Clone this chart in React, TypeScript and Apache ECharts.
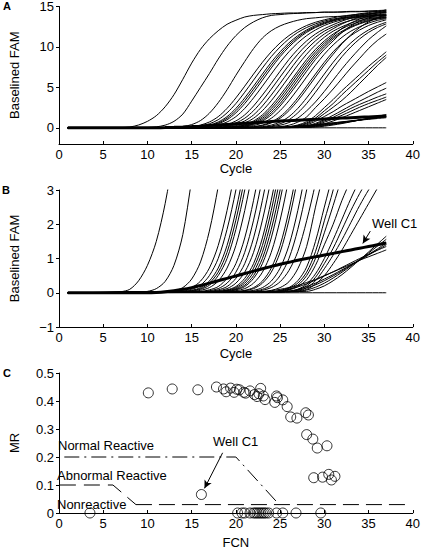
import React, { useEffect, useRef } from 'react';
import * as echarts from 'echarts';

type Curve = { start: number; v: number[] };

const FONT = '"Liberation Sans", Arial, Helvetica, sans-serif';

// Panel A/B amplification curves: values at cycles start, start+1, ... 37 (baseline 0 before start)
const EARLY_CURVES: Curve[] = [
  { start: 6, v: [0.01, 0.03, 0.1, 0.35, 0.8, 1.5, 2.6, 4.1, 6.0, 8.0, 9.7, 11.0, 12.0, 12.8, 13.3, 13.7, 13.9, 14.0, 14.1, 14.15, 14.2, 14.2, 14.25, 14.25, 14.3, 14.3, 14.3, 14.35, 14.35, 14.4, 14.4, 14.4] },
  { start: 9, v: [0.02, 0.04, 0.12, 0.33, 0.8, 1.7, 3.3, 5.0, 6.7, 8.5, 10.1, 11.4, 12.4, 13.1, 13.6, 13.9, 14.0, 14.1, 14.15, 14.2, 14.25, 14.3, 14.3, 14.35, 14.4, 14.4, 14.45, 14.5, 14.55] },
  { start: 12, v: [0.02, 0.05, 0.15, 0.4, 0.9, 1.8, 3.1, 4.7, 6.5, 8.2, 9.8, 11.1, 12.0, 12.6, 13.0, 13.3, 13.5, 13.6, 13.7, 13.75, 13.8, 13.85, 13.9, 13.95, 14.0, 14.0] },
];

const CLUSTER_CURVES: Curve[] = [
  { start: 13, v: [0.03, 0.07, 0.15, 0.34, 0.72, 1.38, 2.4, 3.7, 5.15, 6.65, 8.1, 9.4, 10.5, 11.4, 12.1, 12.65, 13.05, 13.35, 13.6, 13.8, 13.95, 14.05, 14.15, 14.2, 14.25] },
  { start: 14, v: [0.05, 0.1, 0.22, 0.5, 1.0, 1.85, 3.0, 4.4, 5.9, 7.4, 8.8, 10.0, 11.0, 11.8, 12.4, 12.85, 13.2, 13.45, 13.6, 13.7, 13.8, 13.85, 13.9, 13.95] },
  { start: 14, v: [0.03, 0.07, 0.15, 0.34, 0.72, 1.38, 2.4, 3.7, 5.15, 6.65, 8.1, 9.4, 10.5, 11.4, 12.1, 12.65, 13.05, 13.35, 13.65, 13.9, 14.1, 14.25, 14.4, 14.5] },
  { start: 14, v: [0.025, 0.06, 0.12, 0.28, 0.6, 1.18, 2.12, 3.35, 4.78, 6.28, 7.75, 9.1, 10.25, 11.2, 11.95, 12.5, 12.95, 13.28, 13.5, 13.62, 13.72, 13.82, 13.87, 13.9] },
  { start: 15, v: [0.05, 0.1, 0.22, 0.5, 1.0, 1.85, 3.0, 4.4, 5.9, 7.4, 8.8, 10.0, 11.0, 11.8, 12.4, 12.85, 13.2, 13.5, 13.75, 13.95, 14.1, 14.2, 14.3] },
  { start: 15, v: [0.03, 0.07, 0.15, 0.34, 0.72, 1.38, 2.4, 3.7, 5.15, 6.65, 8.1, 9.4, 10.5, 11.4, 12.1, 12.65, 13.05, 13.35, 13.55, 13.65, 13.75, 13.85, 13.88] },
  { start: 16, v: [0.04, 0.085, 0.18, 0.42, 0.85, 1.6, 2.7, 4.05, 5.5, 7.0, 8.45, 9.7, 10.75, 11.6, 12.25, 12.75, 13.2, 13.55, 13.8, 14.0, 14.2, 14.4] },
  { start: 16, v: [0.025, 0.06, 0.12, 0.28, 0.6, 1.18, 2.12, 3.35, 4.78, 6.28, 7.75, 9.1, 10.25, 11.2, 11.95, 12.5, 12.95, 13.28, 13.5, 13.62, 13.72, 13.82] },
  { start: 17, v: [0.04, 0.085, 0.18, 0.42, 0.85, 1.6, 2.7, 4.05, 5.5, 7.0, 8.45, 9.7, 10.75, 11.6, 12.25, 12.85, 13.3, 13.7, 14.0, 14.3, 14.6] },
  { start: 17, v: [0.025, 0.06, 0.12, 0.28, 0.6, 1.18, 2.12, 3.35, 4.78, 6.28, 7.75, 9.1, 10.25, 11.2, 11.95, 12.5, 12.95, 13.28, 13.5, 13.62, 13.72] },
  { start: 18, v: [0.04, 0.085, 0.18, 0.42, 0.85, 1.6, 2.7, 4.05, 5.5, 7.0, 8.45, 9.7, 10.75, 11.6, 12.25, 12.75, 13.1, 13.4, 13.58, 13.68] },
  { start: 18, v: [0.03, 0.07, 0.15, 0.34, 0.72, 1.38, 2.4, 3.7, 5.15, 6.65, 8.1, 9.4, 10.5, 11.4, 12.3, 12.95, 13.45, 13.8, 14.05, 14.25] },
  { start: 18, v: [0.025, 0.06, 0.12, 0.28, 0.6, 1.18, 2.12, 3.35, 4.78, 6.28, 7.75, 9.1, 10.25, 11.2, 11.95, 12.5, 12.95, 13.28, 13.5, 13.62] },
  { start: 19, v: [0.05, 0.1, 0.22, 0.5, 1.0, 1.85, 3.0, 4.4, 5.9, 7.4, 8.8, 10.0, 11.0, 11.8, 12.4, 12.85, 13.2, 13.45, 13.6] },
  { start: 19, v: [0.04, 0.085, 0.18, 0.42, 0.85, 1.6, 2.7, 4.05, 5.5, 7.0, 8.45, 9.7, 10.75, 11.8, 12.6, 13.2, 13.6, 13.9, 14.1] },
  { start: 19, v: [0.025, 0.06, 0.12, 0.28, 0.6, 1.18, 2.12, 3.35, 4.78, 6.28, 7.75, 9.1, 10.25, 11.2, 11.95, 12.5, 12.95, 13.28, 13.5] },
  { start: 20, v: [0.03, 0.07, 0.15, 0.34, 0.72, 1.38, 2.4, 3.7, 5.15, 6.65, 8.1, 9.4, 10.5, 11.4, 12.1, 12.65, 13.05, 13.35] },
  { start: 20, v: [0.025, 0.06, 0.12, 0.28, 0.6, 1.18, 2.12, 3.35, 4.78, 6.28, 7.75, 9.1, 10.4, 11.5, 12.4, 13.1, 13.6, 13.95] },
  { start: 21, v: [0.03, 0.07, 0.15, 0.34, 0.72, 1.38, 2.4, 3.7, 5.15, 6.65, 8.1, 9.4, 10.5, 11.4, 12.1, 12.65, 13.05] },
  { start: 22, v: [0.05, 0.1, 0.22, 0.5, 1.0, 1.85, 3.0, 4.4, 5.9, 7.4, 8.8, 10.0, 11.0, 11.8, 12.4, 12.85] },
];

const LATE_CURVES: Curve[] = [
  { start: 22, v: [0.03, 0.07, 0.15, 0.32, 0.65, 1.2, 2.1, 3.2, 4.5, 5.9, 7.3, 8.6, 9.8, 10.9, 11.8, 12.6] },
  { start: 23, v: [0.03, 0.07, 0.15, 0.32, 0.7, 1.35, 2.5, 3.6, 4.8, 6.1, 7.4, 8.6, 9.8, 10.8, 11.6] },
  { start: 24, v: [0.03, 0.07, 0.15, 0.35, 0.75, 1.5, 2.5, 3.5, 4.6, 5.6, 6.6, 7.6, 8.5, 9.4] },
  { start: 24, v: [0.03, 0.06, 0.13, 0.28, 0.6, 1.2, 2.1, 3.0, 4.1, 5.1, 6.1, 7.1, 8.1, 9.0] },
  { start: 25, v: [0.04, 0.1, 0.22, 0.5, 1.0, 1.75, 2.55, 3.4, 4.4, 5.5, 6.6, 7.7, 8.7] },
  { start: 25, v: [0.03, 0.08, 0.18, 0.38, 0.8, 1.4, 2.0, 2.7, 3.3, 3.9, 4.5, 5.05, 5.6] },
  { start: 26, v: [0.04, 0.1, 0.25, 0.55, 1.0, 1.55, 2.15, 2.75, 3.3, 3.85, 4.4, 4.9] },
  { start: 26, v: [0.03, 0.08, 0.2, 0.45, 0.85, 1.3, 1.85, 2.4, 2.9, 3.35, 3.8, 4.2] },
  { start: 27, v: [0.05, 0.15, 0.35, 0.7, 1.1, 1.55, 2.05, 2.55, 3.0, 3.4, 3.8] },
  { start: 27, v: [0.04, 0.1, 0.25, 0.5, 0.85, 1.25, 1.7, 2.15, 2.6, 3.05, 3.5] },
];

const LOW_CURVES: Curve[] = [
  { start: 22, v: [0.02, 0.04, 0.06, 0.1, 0.15, 0.21, 0.3, 0.39, 0.5, 0.61, 0.72, 0.83, 0.95, 1.05, 1.15, 1.25] },
  { start: 24, v: [0.02, 0.05, 0.1, 0.17, 0.26, 0.37, 0.49, 0.61, 0.74, 0.87, 1.0, 1.12, 1.24, 1.35] },
  { start: 25, v: [0.02, 0.05, 0.1, 0.18, 0.28, 0.4, 0.53, 0.67, 0.81, 0.95, 1.1, 1.25, 1.4] },
  { start: 26, v: [0.03, 0.07, 0.14, 0.23, 0.35, 0.49, 0.64, 0.8, 0.96, 1.12, 1.28, 1.45] },
  { start: 27, v: [0.03, 0.08, 0.16, 0.28, 0.43, 0.6, 0.78, 0.97, 1.16, 1.36, 1.56] },
  { start: 28, v: [0.04, 0.1, 0.2, 0.35, 0.53, 0.74, 0.96, 1.19, 1.42, 1.65] },
];

const FLAT_CURVE: Curve = { start: 37, v: [0] };

const WELL_C1_CURVE: Curve = {
  start: 10,
  v: [0, 0.01, 0.03, 0.06, 0.1, 0.15, 0.21, 0.28, 0.35, 0.42, 0.49, 0.56, 0.63, 0.7, 0.77, 0.83, 0.89, 0.95, 1.0, 1.05, 1.1, 1.15, 1.2, 1.25, 1.3, 1.35, 1.4, 1.45],
};

// Panel C: FCN vs MR
const REACTIVE_POINTS: number[][] = [
  [10.1, 0.429], [12.8, 0.443], [15.7, 0.44], [17.8, 0.45], [18.6, 0.443], [18.9, 0.433], [19.4, 0.446],
  [19.8, 0.431], [20.1, 0.442], [20.4, 0.44], [20.9, 0.431], [21.1, 0.428], [21.6, 0.436], [22.1, 0.423],
  [22.4, 0.416], [22.6, 0.426], [22.8, 0.445], [23.1, 0.418], [23.3, 0.405], [24.4, 0.395], [24.6, 0.418],
  [24.7, 0.412], [25.3, 0.404], [25.8, 0.38], [26.2, 0.343], [26.9, 0.339], [27.9, 0.358], [28.2, 0.35],
  [28.0, 0.28], [28.7, 0.264], [29.2, 0.232], [30.3, 0.24], [28.8, 0.126], [29.8, 0.128], [30.5, 0.138],
  [30.8, 0.118], [31.2, 0.131],
];
const WELL_C1_POINT: number[] = [16.1, 0.066];
const NONREACTIVE_FCN: number[] = [3.5, 20.2, 20.7, 21.0, 21.6, 22.0, 22.2, 22.4, 22.6, 22.8, 23.0, 23.2, 23.4, 23.7, 24.6, 25.3, 26.8, 29.6];

const NORMAL_LINE: number[][] = [[0.6, 0.2], [20.0, 0.2], [24.9, 0.03]];
const ABNORMAL_LINE: number[][] = [[0.1, 0.1], [6.1, 0.1], [8.7, 0.03]];
const NONREACTIVE_LINE: number[][] = [[8.7, 0.03], [39.5, 0.03]];

const X_TICKS = [0, 5, 10, 15, 20, 25, 30, 35, 40];
const Y_TICKS_A = [0, 5, 10, 15];

function knots(c: Curve): number[][] {
  const pts: number[][] = [];
  if (c.start > 1) pts.push([1, 0]);
  c.v.forEach((y, i) => pts.push([c.start + i, y]));
  return pts;
}

function xAxis(gridIndex: number, name: string, nameGap: number) {
  return {
    type: 'value', gridIndex, min: X_TICKS[0], max: X_TICKS[X_TICKS.length - 1], interval: 5,
    name, nameLocation: 'middle', nameGap,
    nameTextStyle: { color: '#000', fontSize: 13, fontFamily: FONT },
    axisLine: { onZero: false, lineStyle: { color: '#000', width: 1 } },
    axisTick: { inside: true, length: 3, lineStyle: { color: '#000', width: 1 } },
    axisLabel: { color: '#000', fontSize: 13, margin: 4, fontFamily: FONT },
    splitLine: { show: false },
  };
}

function yAxisBase(gridIndex: number, name: string, nameGap: number) {
  return {
    type: 'value', gridIndex, name, nameLocation: 'middle', nameGap,
    nameTextStyle: { color: '#000', fontSize: 13, fontFamily: FONT },
    axisLine: { show: true, onZero: false, lineStyle: { color: '#000', width: 1 } },
    axisTick: { show: true, inside: false, length: 3, lineStyle: { color: '#000', width: 1 } },
    axisLabel: { color: '#000', fontSize: 13, margin: 5, fontFamily: FONT },
    splitLine: { show: false },
  };
}

function curveSeries(c: Curve, grid: number, width = 1) {
  return {
    type: 'line', xAxisIndex: grid, yAxisIndex: grid, data: knots(c),
    showSymbol: false, symbol: 'none', smooth: 0.3, clip: true, silent: true,
    lineStyle: { color: '#000', width },
  };
}

export default function App() {
  const ref = useRef<HTMLDivElement>(null);
  useEffect(() => {
    document.body.style.margin = '0';
    const chart = echarts.init(ref.current!, null, { renderer: 'svg' });
    const thin = [...EARLY_CURVES, ...CLUSTER_CURVES, ...LATE_CURVES, ...LOW_CURVES, FLAT_CURVE];
    const series: any[] = [];
    [0, 1].forEach((g) => {
      thin.forEach((c) => series.push(curveSeries(c, g)));
      const c1: any = curveSeries(WELL_C1_CURVE, g, 3);
      if (g === 1) {
        c1.markLine = {
          silent: true, symbol: ['none', 'arrow'], symbolSize: [6, 8],
          lineStyle: { color: '#000', width: 1, type: 'solid' }, label: { show: false },
          data: [[{ coord: [35.2, 1.8] }, { coord: [34.35, 1.44] }]],
        };
      }
      series.push(c1);
    });
    const dashLine = (data: number[][], type: number[]) => ({
      type: 'line', xAxisIndex: 2, yAxisIndex: 2, data, showSymbol: false, symbol: 'none', silent: true,
      lineStyle: { color: '#000', width: 1, type },
    });
    series.push(dashLine(NORMAL_LINE, [15, 5, 2, 5]));
    series.push(dashLine(ABNORMAL_LINE, [16, 8]));
    series.push(dashLine(NONREACTIVE_LINE, [16, 7]));
    const circleStyle = { color: 'rgba(0,0,0,0)', borderColor: '#000', borderWidth: 1 };
    series.push({
      type: 'scatter', xAxisIndex: 2, yAxisIndex: 2, clip: false, silent: true,
      symbol: 'circle', symbolSize: 10, itemStyle: circleStyle,
      data: [...REACTIVE_POINTS, WELL_C1_POINT, ...NONREACTIVE_FCN.map((f) => [f, 0])],
      markLine: {
        silent: true, symbol: ['none', 'arrow'], symbolSize: [6, 8],
        lineStyle: { color: '#000', width: 1, type: 'solid' }, label: { show: false },
        data: [[{ coord: [18.5, 0.215] }, { coord: [16.45, 0.088] }]],
      },
    });

    const txt = (text: string, x: number, y: number, bold = false, size = 13) => ({
      type: 'text', x, y, silent: true,
      style: { text, fill: '#000', font: `${bold ? 'bold ' : ''}${size}px ${FONT}`, verticalAlign: 'middle', align: 'left' },
    });

    const yA: any = yAxisBase(0, 'Baselined FAM', 38);
    yA.min = -2; yA.max = 15;
    yA.axisLabel.customValues = Y_TICKS_A;
    yA.axisTick.customValues = Y_TICKS_A;
    const yB: any = yAxisBase(1, 'Baselined FAM', 38);
    yB.min = -1; yB.max = 3; yB.interval = 1;
    yB.axisLabel.formatter = (v: number) => String(v).replace('-', '\u2212');
    const yC: any = yAxisBase(2, 'MR', 38);
    yC.min = 0; yC.max = 0.5; yC.interval = 0.1;

    chart.setOption({
      animation: false,
      backgroundColor: '#fff',
      textStyle: { fontFamily: FONT },
      grid: [
        { left: 52, top: 6, width: 363, height: 138 },
        { left: 52, top: 190, width: 363, height: 137 },
        { left: 52, top: 373, width: 363, height: 140 },
      ],
      xAxis: [xAxis(0, 'Cycle', 18), xAxis(1, 'Cycle', 20), xAxis(2, 'FCN', 23)],
      yAxis: [yA, yB, yC],
      series,
      graphic: [
        txt('A', 3, 6, true, 11),
        txt('B', 2, 190, true, 11),
        txt('C', 3, 373, true, 11),
        txt('Well C1', 372, 223),
        txt('Well C1', 213, 441),
        txt('Normal Reactive', 58, 445),
        txt('Abnormal Reactive', 57, 475),
        txt('Nonreactive', 57, 504),
      ],
    });
    return () => chart.dispose();
  }, []);
  return <div ref={ref} style={{ width: 423, height: 551 }} />;
}
